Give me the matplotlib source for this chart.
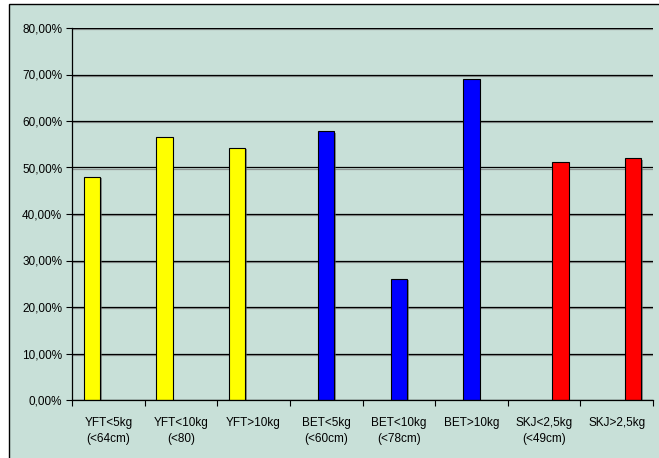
import numpy as np
import matplotlib
matplotlib.use("Agg")
import matplotlib.pyplot as plt
import matplotlib.patheffects as pe
from matplotlib.patches import Rectangle
from matplotlib.ticker import FuncFormatter, FixedLocator

categories = [
    "YFT<5kg\n(<64cm)", "YFT<10kg\n(<80)", "YFT>10kg",
    "BET<5kg\n(<60cm)", "BET<10kg\n(<78cm)", "BET>10kg",
    "SKJ<2,5kg\n(<49cm)", "SKJ>2,5kg",
]
# one series per species, NaN where the species has no bar
yft = [48.0, 56.6, 54.3, np.nan, np.nan, np.nan, np.nan, np.nan]
bet = [np.nan, np.nan, np.nan, 57.8, 26.1, 69.1, np.nan, np.nan]
skj = [np.nan, np.nan, np.nan, np.nan, np.nan, np.nan, 51.2, 52.0]
y_ticks = [0, 10, 20, 30, 40, 50, 60, 70, 80]

bg = "#C8E0D8"
plt.rcParams["font.family"] = ["Liberation Sans", "DejaVu Sans"]
plt.rcParams["font.size"] = 8.5

fig = plt.figure(figsize=(6.59, 4.58), dpi=100)
fig.patch.set_facecolor("white")
fig.patches.append(Rectangle((9 / 659, -0.1), 1.2, (458 - 4) / 458 + 0.1,
                             transform=fig.transFigure, facecolor=bg,
                             edgecolor="black", linewidth=1.0, zorder=-10))

ax = fig.add_axes([72 / 659, 58 / 458, 581 / 659, 372 / 458])
ax.set_facecolor(bg)

x = np.arange(len(categories))
w = 0.225
shadow = [pe.withSimplePatchShadow(offset=(1.2, -1.2), shadow_rgbFace="#555555", alpha=0.6)]
for off, vals, col in [(-w, yft, "#FFFF00"), (0, bet, "#0000FF"), (w, skj, "#FF0000")]:
    ax.bar(x + off, vals, width=w, color=col, edgecolor="black", linewidth=0.8,
           zorder=3, path_effects=shadow)

ax.set_xlim(-0.5, len(categories) - 0.5)
ax.set_ylim(0, 80)
ax.set_yticks(y_ticks)
ax.yaxis.set_major_formatter(FuncFormatter(lambda v, _: f"{v:.2f}%".replace(".", ",")))
ax.yaxis.grid(True, color="black", linewidth=0.9, zorder=1)
ax.set_axisbelow(True)
for gl in ax.yaxis.get_gridlines():
    gl.set_path_effects([pe.SimpleLineShadow(offset=(0, -1), shadow_color="#777777", alpha=0.7), pe.Normal()])

# ticks sit between categories, labels at the centers
ax.xaxis.set_major_locator(FixedLocator(np.arange(-0.5, len(categories), 1.0)))
ax.xaxis.set_major_formatter(FuncFormatter(lambda v, _: ""))
ax.set_xticks(x, minor=True)
ax.set_xticklabels(categories, minor=True, linespacing=1.45)
ax.tick_params(axis="x", which="minor", length=0, pad=12)
ax.tick_params(axis="x", which="major", length=4, width=0.8, direction="out", colors="black")
ax.tick_params(axis="y", length=4, width=0.8, direction="out", pad=3)

for s in ["top", "right"]:
    ax.spines[s].set_visible(False)
for s in ["left", "bottom"]:
    ax.spines[s].set_color("black")
    ax.spines[s].set_linewidth(0.9)
    ax.spines[s].set_zorder(4)

fig.savefig("out.png", dpi=100, facecolor=fig.get_facecolor())
